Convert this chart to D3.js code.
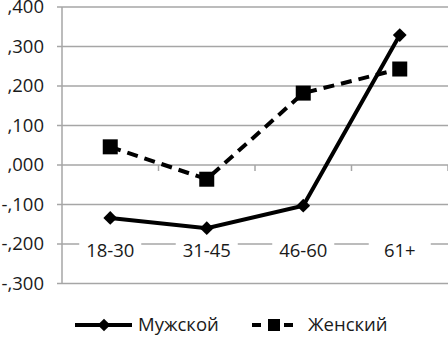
<!DOCTYPE html>
<html><head><meta charset="utf-8">
<script src="https://cdn.jsdelivr.net/npm/d3@7"></script>
<style>body{margin:0;background:#fff}svg{display:block}text{font-family:"Open Sans","Liberation Sans",sans-serif;fill:#1a1a1a}</style>
</head><body>
<script>
const categories = ["18-30","31-45","46-60","61+"];
const male = [-0.134,-0.160,-0.103,0.329];
const female = [0.046,-0.036,0.182,0.243];
const yTicks = [0.4,0.3,0.2,0.1,0.0,-0.1,-0.2,-0.3];
const seriesNames = ["Мужской","Женский"];

const W=448,H=337;
const svg=d3.select("body").append("svg").attr("width",W).attr("height",H);
const x=d3.scaleBand().domain(categories).range([62,448]);
const y=d3.scaleLinear().domain([-0.3,0.4]).range([283.5,7]);
const fmt=v=>{const s=Math.abs(v).toFixed(3).replace(/^0\./,",");return (v<-1e-9?"-":"")+s;};
const FS=18.5;

svg.append("g").selectAll("line").data(yTicks).join("line")
  .attr("x1",57).attr("x2",W).attr("y1",d=>y(d)).attr("y2",d=>y(d))
  .attr("stroke","#a6a6a6").attr("stroke-width",1.5);
svg.append("line").attr("x1",62).attr("x2",62).attr("y1",y(0.4)).attr("y2",y(-0.3))
  .attr("stroke","#a6a6a6").attr("stroke-width",1.5);
svg.append("g").selectAll("text").data(yTicks).join("text")
  .attr("x",44).attr("y",d=>y(d)).attr("dy","0.35em").attr("text-anchor","end")
  .attr("font-size",FS).text(fmt);
const bounds=categories.map(c=>x(c)+x.bandwidth());
svg.append("g").selectAll("line").data(bounds).join("line")
  .attr("x1",d=>d).attr("x2",d=>d).attr("y1",y(0)).attr("y2",y(0)+6)
  .attr("stroke","#a6a6a6").attr("stroke-width",1.5);
const lab=svg.append("g").selectAll("g").data(categories).join("g")
  .attr("transform",d=>`translate(${x(d)+x.bandwidth()/2},${y(-0.2)+7})`);
lab.append("rect").attr("x",-31).attr("y",-11).attr("width",62).attr("height",22).attr("fill","#fff");
lab.append("text").attr("text-anchor","middle").attr("dy","0.35em").attr("font-size",FS).text(d=>d);

const cx=c=>x(c)+x.bandwidth()/2;
const line=d3.line().x((d,i)=>cx(categories[i])).y(d=>y(d));
svg.append("path").datum(male).attr("d",line).attr("fill","none").attr("stroke","#000").attr("stroke-width",4);
svg.append("path").datum(female).attr("d",line).attr("fill","none").attr("stroke","#000").attr("stroke-width",4).attr("stroke-dasharray","11,7");
svg.append("g").selectAll("path").data(male).join("path")
  .attr("d",d3.symbol().type(d3.symbolSquare).size(95))
  .attr("transform",(d,i)=>`translate(${cx(categories[i])},${y(d)}) rotate(45)`).attr("fill","#000");
svg.append("g").selectAll("rect").data(female).join("rect")
  .attr("x",(d,i)=>cx(categories[i])-7.5).attr("y",d=>y(d)-7.5).attr("width",15).attr("height",15).attr("fill","#000");

const lg=svg.append("g");
lg.append("line").attr("x1",75).attr("x2",132).attr("y1",325).attr("y2",325).attr("stroke","#000").attr("stroke-width",4);
lg.append("path").attr("d",d3.symbol().type(d3.symbolSquare).size(80)).attr("transform","translate(104,325) rotate(45)").attr("fill","#000");
lg.append("text").attr("x",138).attr("y",325).attr("dy","0.35em").attr("font-size",FS).text(seriesNames[0]);
lg.append("line").attr("x1",252).attr("x2",297).attr("y1",325).attr("y2",325).attr("stroke","#000").attr("stroke-width",4).attr("stroke-dasharray","9,7");
lg.append("rect").attr("x",268).attr("y",319).attr("width",12).attr("height",12).attr("fill","#000");
lg.append("text").attr("x",308).attr("y",325).attr("dy","0.35em").attr("font-size",FS).text(seriesNames[1]);
</script>
</body></html>
